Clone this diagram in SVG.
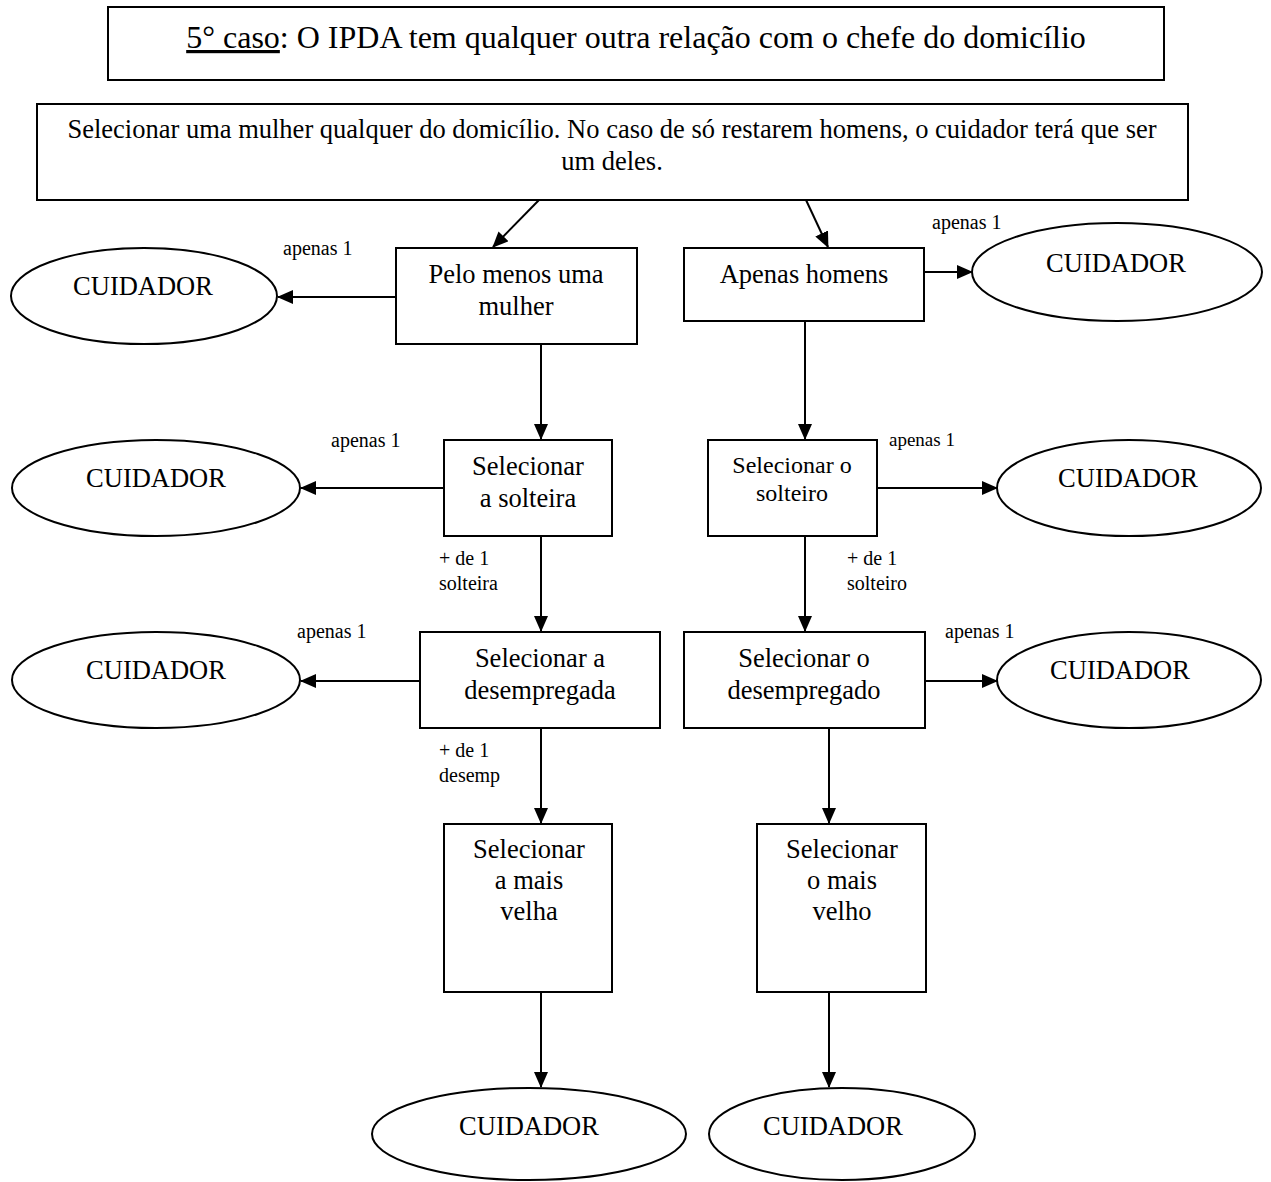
<svg xmlns="http://www.w3.org/2000/svg" width="1271" height="1182" viewBox="0 0 1271 1182" font-family="'Liberation Serif', 'Times New Roman', serif">
<style>
.box{fill:#fff;stroke:#000;stroke-width:2}
.ell{fill:#fff;stroke:#000;stroke-width:2}
text{font-family:'Liberation Serif','Times New Roman',serif;fill:#000}
.t{font-size:26.5px;text-anchor:middle}
.h{font-size:32px;text-anchor:middle}
.m{font-size:24px;text-anchor:middle}
.s{font-size:20px}
.ln{stroke:#000;stroke-width:2;fill:none;marker-end:url(#ah)}
</style>
<defs>
<marker id="ah" markerWidth="16" markerHeight="14" refX="15" refY="7" orient="auto" markerUnits="userSpaceOnUse">
<path d="M0,0 L16,7 L0,14 Z" fill="#000"/>
</marker>
</defs>
<rect width="1271" height="1182" fill="#fff"/>
<g id="title">
<rect class="box" x="108" y="7" width="1056" height="73"/>
<text class="h" x="636" y="48"><tspan text-decoration="underline">5° caso</tspan>: O IPDA tem qualquer outra relação com o chefe do domicílio</text>
</g>
<g id="inicio">
<rect class="box" x="37" y="104" width="1151" height="96"/>
<text class="t" x="612" y="138">Selecionar uma mulher qualquer do domicílio. No caso de só restarem homens, o cuidador terá que ser</text>
<text class="t" x="612" y="170">um deles.</text>
</g>
<g id="mulher">
<rect class="box" x="396" y="248" width="241" height="96"/>
<text class="t" x="516" y="283">Pelo menos uma</text>
<text class="t" x="516" y="315">mulher</text>
</g>
<g id="homens">
<rect class="box" x="684" y="248" width="240" height="73"/>
<text class="t" x="804" y="283">Apenas homens</text>
</g>
<g id="solteira">
<rect class="box" x="444" y="440" width="168" height="96"/>
<text class="t" x="528" y="475">Selecionar</text>
<text class="t" x="528" y="507">a solteira</text>
</g>
<g id="solteiro">
<rect class="box" x="708" y="440" width="169" height="96"/>
<text class="m" x="792" y="473">Selecionar o</text>
<text class="m" x="792" y="501">solteiro</text>
</g>
<g id="desempregada">
<rect class="box" x="420" y="632" width="240" height="96"/>
<text class="t" x="540" y="667">Selecionar a</text>
<text class="t" x="540" y="699">desempregada</text>
</g>
<g id="desempregado">
<rect class="box" x="684" y="632" width="241" height="96"/>
<text class="t" x="804" y="667">Selecionar o</text>
<text class="t" x="804" y="699">desempregado</text>
</g>
<g id="velha">
<rect class="box" x="444" y="824" width="168" height="168"/>
<text class="t" x="529" y="858">Selecionar</text>
<text class="t" x="529" y="889">a mais</text>
<text class="t" x="529" y="920">velha</text>
</g>
<g id="velho">
<rect class="box" x="757" y="824" width="169" height="168"/>
<text class="t" x="842" y="858">Selecionar</text>
<text class="t" x="842" y="889">o mais</text>
<text class="t" x="842" y="920">velho</text>
</g>
<g id="cuid1">
<ellipse class="ell" cx="144" cy="296" rx="133" ry="48"/>
<text class="t" x="143" y="295">CUIDADOR</text>
</g>
<g id="cuid2">
<ellipse class="ell" cx="1117" cy="272" rx="145" ry="49"/>
<text class="t" x="1116" y="272">CUIDADOR</text>
</g>
<g id="cuid3">
<ellipse class="ell" cx="156" cy="488" rx="144" ry="48"/>
<text class="t" x="156" y="487">CUIDADOR</text>
</g>
<g id="cuid4">
<ellipse class="ell" cx="1129" cy="488" rx="132" ry="48"/>
<text class="t" x="1128" y="487">CUIDADOR</text>
</g>
<g id="cuid5">
<ellipse class="ell" cx="156" cy="680" rx="144" ry="48"/>
<text class="t" x="156" y="679">CUIDADOR</text>
</g>
<g id="cuid6">
<ellipse class="ell" cx="1129" cy="680" rx="132" ry="48"/>
<text class="t" x="1120" y="679">CUIDADOR</text>
</g>
<g id="cuid7">
<ellipse class="ell" cx="529" cy="1134" rx="157" ry="46"/>
<text class="t" x="529" y="1135">CUIDADOR</text>
</g>
<g id="cuid8">
<ellipse class="ell" cx="842" cy="1134" rx="133" ry="46"/>
<text class="t" x="833" y="1135">CUIDADOR</text>
</g>
<g id="connectors">
<line class="ln" x1="539" y1="200" x2="493" y2="247"/>
<line class="ln" x1="806" y1="200" x2="828" y2="247"/>
<line class="ln" x1="396" y1="297" x2="278" y2="297"/>
<line class="ln" x1="924" y1="272" x2="972" y2="272"/>
<line class="ln" x1="541" y1="344" x2="541" y2="439"/>
<line class="ln" x1="805" y1="321" x2="805" y2="439"/>
<line class="ln" x1="444" y1="488" x2="301" y2="488"/>
<line class="ln" x1="877" y1="488" x2="997" y2="488"/>
<line class="ln" x1="541" y1="536" x2="541" y2="631"/>
<line class="ln" x1="805" y1="536" x2="805" y2="631"/>
<line class="ln" x1="420" y1="681" x2="301" y2="681"/>
<line class="ln" x1="925" y1="681" x2="997" y2="681"/>
<line class="ln" x1="541" y1="728" x2="541" y2="823"/>
<line class="ln" x1="829" y1="728" x2="829" y2="823"/>
<line class="ln" x1="541" y1="992" x2="541" y2="1087"/>
<line class="ln" x1="829" y1="992" x2="829" y2="1087"/>
<text class="s" x="283" y="255">apenas 1</text>
<text class="s" x="932" y="229">apenas 1</text>
<text class="s" x="331" y="447">apenas 1</text>
<text class="s" x="889" y="446" style="font-size:19px">apenas 1</text>
<text class="s" x="297" y="638">apenas 1</text>
<text class="s" x="945" y="638">apenas 1</text>
<text class="s" x="439" y="565">+ de 1</text>
<text class="s" x="439" y="590">solteira</text>
<text class="s" x="847" y="565">+ de 1</text>
<text class="s" x="847" y="590">solteiro</text>
<text class="s" x="439" y="757">+ de 1</text>
<text class="s" x="439" y="782">desemp</text>
</g>
</svg>
